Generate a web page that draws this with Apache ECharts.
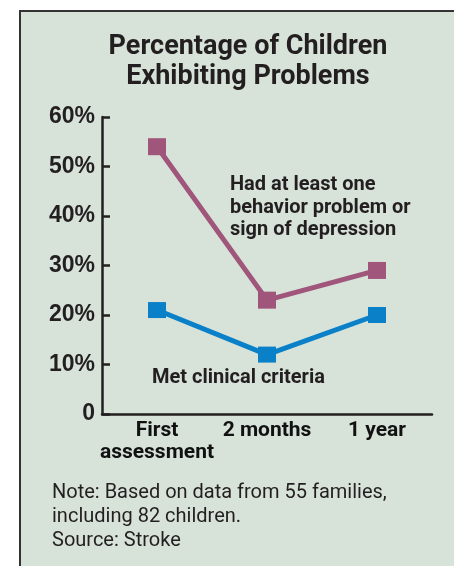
<!DOCTYPE html>
<html>
<head>
<meta charset="utf-8">
<script src="https://cdn.jsdelivr.net/npm/echarts@6/dist/echarts.min.js"></script>
<style>
  html, body { margin: 0; padding: 0; background: #fff; }
  #chart { width: 454px; height: 566px; }
</style>
</head>
<body>
<div id="chart"></div>
<script>
const categories = ['First\nassessment', '2 months', '1 year'];
const behaviorProblem = [54, 23, 29];
const clinicalCriteria = [21, 12, 20];
const yTicks = { min: 0, max: 60, interval: 10 };

const ink = '#231f20';
const panelBg = '#d7e3d9';

const chart = echarts.init(document.getElementById('chart'));

chart.setOption({
  animation: false,
  backgroundColor: '#ffffff',
  title: {
    text: 'Percentage of Children\nExhibiting Problems',
    left: 243,
    top: 27,
    textAlign: 'center',
    textStyle: {
      fontFamily: 'Roboto',
      fontWeight: 'bold',
      fontSize: 27,
      lineHeight: 30,
      color: ink
    }
  },
  graphic: [
    {
      type: 'rect',
      z: -10,
      shape: { x: 20, y: 11, width: 450, height: 570 },
      style: { fill: panelBg, stroke: '#333333', lineWidth: 2 }
    },
    {
      type: 'text',
      left: 230,
      top: 174,
      style: {
        text: 'Had at least one\nbehavior problem or\nsign of depression',
        font: 'bold 20px Roboto',
        lineHeight: 22.5,
        fill: ink
      }
    },
    {
      type: 'text',
      left: 152,
      top: 368,
      style: {
        text: 'Met clinical criteria',
        font: 'bold 20px Roboto',
        fill: ink
      }
    },
    {
      type: 'text',
      left: 52,
      top: 481,
      style: {
        text: 'Note: Based on data from 55 families,\nincluding 82 children.\nSource: Stroke',
        font: '20px Roboto',
        lineHeight: 24,
        fill: ink
      }
    }
  ],
  grid: { left: 102, top: 117, width: 330, height: 297 },
  xAxis: {
    type: 'category',
    data: categories,
    boundaryGap: true,
    axisLine: { lineStyle: { color: ink, width: 2.5 } },
    axisTick: { inside: true, alignWithLabel: true, interval: 0, length: 8, lineStyle: { color: ink, width: 2.5 } },
    axisLabel: {
      interval: 0,
      hideOverlap: false,
      margin: 6,
      color: '#111111',
      fontFamily: 'Roboto',
      fontWeight: 'bold',
      fontSize: 21,
      lineHeight: 22
    }
  },
  yAxis: {
    type: 'value',
    min: yTicks.min,
    max: yTicks.max,
    interval: yTicks.interval,
    splitLine: { show: false },
    axisLine: { show: true, lineStyle: { color: ink, width: 2.5 } },
    axisTick: { show: true, inside: true, length: 8, lineStyle: { color: ink, width: 2.5 } },
    axisLabel: {
      margin: 7,
      color: ink,
      fontFamily: 'Liberation Sans',
      fontWeight: 'bold',
      fontSize: 23,
      formatter: (v) => (v === 0 ? '0' : v + '%')
    }
  },
  series: [
    {
      name: 'Had at least one behavior problem or sign of depression',
      type: 'line',
      data: behaviorProblem,
      symbol: 'rect',
      symbolSize: [18, 17],
      lineStyle: { color: '#a0557b', width: 5 },
      itemStyle: { color: '#a0557b' }
    },
    {
      name: 'Met clinical criteria',
      type: 'line',
      data: clinicalCriteria,
      symbol: 'rect',
      symbolSize: [18, 16],
      lineStyle: { color: '#0a80c8', width: 5 },
      itemStyle: { color: '#0a80c8' }
    }
  ]
});

window.addEventListener('resize', () => chart.resize());
</script>
</body>
</html>
